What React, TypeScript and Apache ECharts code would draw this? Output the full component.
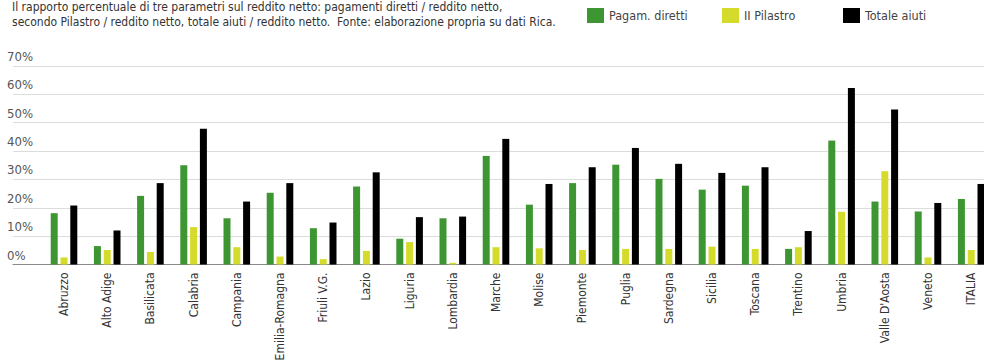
import React, { useEffect, useRef } from "react";
import * as echarts from "echarts";

const categories = [
  "Abruzzo", "Alto Adige", "Basilicata", "Calabria", "Campania", "Emilia-Romagna",
  "Friuli V.G.", "Lazio", "Liguria", "Lombardia", "Marche", "Molise", "Piemonte",
  "Puglia", "Sardegna", "Sicilia", "Toscana", "Trentino", "Umbria", "Valle D'Aosta",
  "Veneto", "ITALIA",
];
const pagamDiretti = [18.1, 6.5, 24.2, 35.0, 16.3, 25.3, 12.8, 27.5, 9.1, 16.3, 38.3, 21.1, 28.7, 35.2, 30.2, 26.4, 27.8, 5.5, 43.7, 22.2, 18.7, 23.1];
const secondoPilastro = [2.5, 5.1, 4.4, 13.2, 6.1, 2.8, 1.9, 4.8, 7.9, 0.6, 6.1, 5.7, 5.1, 5.5, 5.5, 6.3, 5.5, 6.1, 18.6, 32.9, 2.5, 5.1];
const totaleAiuti = [20.8, 12.0, 28.7, 47.9, 22.2, 28.7, 14.8, 32.5, 16.7, 16.9, 44.3, 28.4, 34.3, 41.1, 35.5, 32.3, 34.3, 11.8, 62.2, 54.7, 21.7, 28.4];
const yTicks = [0, 10, 20, 30, 40, 50, 60, 70];

const titleLines = [
  "Il rapporto percentuale di tre parametri sul reddito netto: pagamenti diretti / reddito netto,",
  "secondo Pilastro / reddito netto, totale aiuti / reddito netto.  Fonte: elaborazione propria su dati Rica.",
];

const FONT = "'DejaVu Sans Condensed', 'Liberation Sans Narrow', sans-serif";
const GREEN = "#3d9632";
const YELLOW = "#d5db2a";
const BLACK = "#000000";

export default function App() {
  const ref = useRef<HTMLDivElement>(null);
  useEffect(() => {
    if (!ref.current) return;
    const chart = echarts.init(ref.current, undefined, { renderer: "svg" });
    const top = 66;
    const bottom = 96.5;
    const legendStyle = { fontFamily: FONT, fontSize: 12.5, color: "#444" };
    const legendBase = { top: 8, padding: 0, itemWidth: 17, itemHeight: 15, itemGap: 8, textStyle: legendStyle, icon: "rect" };
    chart.setOption({
      animation: false,
      title: {
        text: titleLines.join("\n"),
        left: 12,
        top: -1,
        padding: 0,
        textStyle: { fontFamily: FONT, fontSize: 12, fontWeight: "normal", color: "#333", lineHeight: 15 },
      },
      legend: [
        { ...legendBase, data: ["Pagam. diretti"], left: 587 },
        { ...legendBase, data: ["II Pilastro"], left: 722 },
        { ...legendBase, data: ["Totale aiuti"], left: 843 },
      ],
      grid: [
        { left: 42.4, right: -8.8, top, bottom, containLabel: false, outerBoundsMode: "none" },
        { left: 13, right: 0, top, bottom, containLabel: false, outerBoundsMode: "none" },
      ],
      xAxis: [
        {
          type: "category",
          gridIndex: 0,
          data: categories,
          axisLine: { show: false },
          axisTick: { show: false },
          axisLabel: {
            rotate: 90,
            interval: 0,
            margin: 8,
            fontFamily: FONT,
            fontSize: 12,
            color: "#333",
          },
        },
        {
          type: "value",
          gridIndex: 1,
          min: 0,
          max: 1,
          axisLine: { show: true, lineStyle: { color: "#8a8a8a", width: 1.2 } },
          axisTick: { show: false },
          axisLabel: { show: false },
          splitLine: { show: false },
        },
      ],
      yAxis: [
        {
          type: "value",
          gridIndex: 0,
          min: 0,
          max: 70,
          interval: 10,
          show: false,
          splitLine: { show: false },
        },
        {
          type: "value",
          gridIndex: 1,
          min: 0,
          max: 70,
          interval: 10,
          axisLine: { show: false },
          axisTick: { show: false },
          splitLine: { show: true, lineStyle: { color: "#dcdcdc", width: 1.2 } },
          axisLabel: {
            inside: true,
            margin: -6,
            verticalAlign: "bottom",
            padding: [0, 0, 3, 0],
            fontFamily: FONT,
            fontSize: 13,
            color: "#555",
            formatter: (v: number) => (yTicks.includes(v) ? v + "%" : ""),
          },
        },
      ],
      series: [
        { name: "Pagam. diretti", type: "bar", xAxisIndex: 0, yAxisIndex: 0, data: pagamDiretti, barWidth: 7, barGap: "40%", itemStyle: { color: GREEN } },
        { name: "II Pilastro", type: "bar", xAxisIndex: 0, yAxisIndex: 0, data: secondoPilastro, barWidth: 7, barGap: "40%", itemStyle: { color: YELLOW } },
        { name: "Totale aiuti", type: "bar", xAxisIndex: 0, yAxisIndex: 0, data: totaleAiuti, barWidth: 7, barGap: "40%", itemStyle: { color: BLACK } },
      ],
    });
    return () => chart.dispose();
  }, []);
  return <div ref={ref} style={{ width: 984, height: 361, position: "absolute", left: 0, top: 0, background: "#fff" }} />;
}
